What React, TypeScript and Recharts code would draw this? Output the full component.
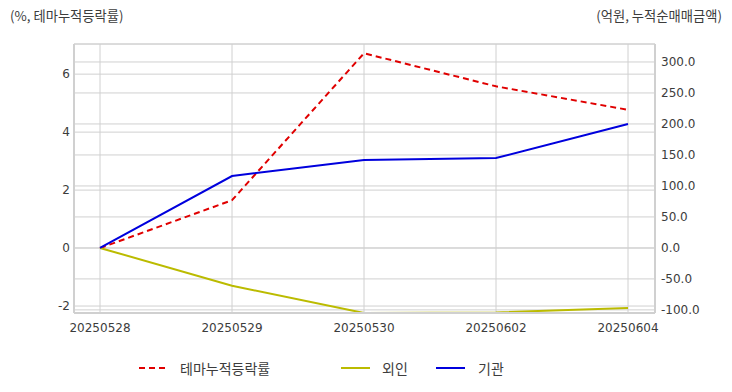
import React from "react";
import { LineChart, Line, XAxis, YAxis, CartesianGrid, Legend } from "recharts";

const categories = ["20250528", "20250529", "20250530", "20250602", "20250604"];
const themeRate = [0, 1.65, 6.72, 5.58, 4.77];
const foreign = [0, -61, -105, -104, -97];
const institution = [0, 116, 142, 145, 200];
const leftTicks = [-2, 0, 2, 4, 6];
const rightTicks = [-100, -50, 0, 50, 100, 150, 200, 250, 300];

const data = categories.map((d, i) => ({
  date: d,
  theme: themeRate[i],
  foreign: foreign[i],
  inst: institution[i],
}));

const KFONT = "'Noto Sans CJK KR', 'Noto Sans', sans-serif";
const NFONT = "'DejaVu Sans', sans-serif";
const tickStyle = { fontSize: 12, fill: "#3c3c3c", fontFamily: NFONT };
const BORDER = "#d0d0d0";

const legendItems = [
  { name: "테마누적등락률", color: "#e00000", dash: true, lineX: 139, textX: 180 },
  { name: "외인", color: "#bbbb00", dash: false, lineX: 341, textX: 382 },
  { name: "기관", color: "#0000dd", dash: false, lineX: 436, textX: 478 },
];

const CustomLegend = () => (
  <div style={{ position: "relative", width: 732, height: 20 }}>
    {legendItems.map((it) => (
      <React.Fragment key={it.name}>
        <svg style={{ position: "absolute", left: it.lineX, top: 5 }} width={30} height={10}>
          <line x1={0} y1={5} x2={29} y2={5} stroke={it.color} strokeWidth={2} strokeDasharray={it.dash ? "6 4" : undefined} />
        </svg>
        <span style={{ position: "absolute", left: it.textX, top: 0, fontSize: 14, color: "#3c3c3c", fontFamily: KFONT, lineHeight: "20px", whiteSpace: "nowrap" }}>{it.name}</span>
      </React.Fragment>
    ))}
  </div>
);

export default function App() {
  return (
    <div style={{ position: "absolute", left: 0, top: 0, width: 732, height: 392, background: "#fff", fontFamily: KFONT }}>
      <div style={{ position: "absolute", left: 10, top: 6, fontSize: 13.3, color: "#3c3c3c", lineHeight: "20px", whiteSpace: "nowrap" }}>(%, 테마누적등락률)</div>
      <div style={{ position: "absolute", right: 10, top: 6, fontSize: 13.3, color: "#3c3c3c", lineHeight: "20px", whiteSpace: "nowrap" }}>(억원, 누적순매매금액)</div>
      <LineChart width={732} height={392} data={data} margin={{ top: 44, right: 0, left: 0, bottom: 29 }}>
        <CartesianGrid yAxisId="left" stroke={BORDER} strokeWidth={1} />
        <CartesianGrid yAxisId="right" stroke={BORDER} strokeWidth={1} vertical={false} />
        <XAxis
          dataKey="date"
          padding={{ left: 26, right: 27 }}
          tick={tickStyle}
          tickLine={false}
          axisLine={{ stroke: BORDER, strokeWidth: 2 }}
          height={30}
          interval={0}
          tickMargin={4}
        />
        <XAxis
          xAxisId="top"
          dataKey="date"
          orientation="top"
          height={0}
          tick={false}
          tickLine={false}
          axisLine={{ stroke: BORDER, strokeWidth: 2 }}
        />
        <YAxis
          yAxisId="left"
          orientation="left"
          width={74}
          domain={[-2.24, 7.04]}
          ticks={leftTicks}
          tick={tickStyle}
          tickLine={false}
          tickSize={4}
          tickMargin={0}
          axisLine={{ stroke: BORDER, strokeWidth: 2 }}
          allowDataOverflow
        />
        <YAxis
          yAxisId="right"
          orientation="right"
          width={77}
          domain={[-105, 329]}
          ticks={rightTicks}
          tick={{ ...tickStyle, textAnchor: "start" }}
          tickFormatter={(v: number) => v.toFixed(1)}
          tickLine={false}
          tickSize={6}
          tickMargin={0}
          axisLine={{ stroke: BORDER, strokeWidth: 2 }}
          allowDataOverflow
        />
        <Line yAxisId="left" dataKey="theme" name="테마누적등락률" stroke="#e00000" strokeWidth={2} strokeDasharray="6 4" dot={false} isAnimationActive={false} />
        <Line yAxisId="right" dataKey="foreign" name="외인" stroke="#bbbb00" strokeWidth={2} dot={false} isAnimationActive={false} />
        <Line yAxisId="right" dataKey="inst" name="기관" stroke="#0000dd" strokeWidth={2} dot={false} isAnimationActive={false} />
        <Legend content={<CustomLegend />} wrapperStyle={{ position: "absolute", left: 0, top: 358, width: 732, height: 20 }} />
      </LineChart>
    </div>
  );
}
